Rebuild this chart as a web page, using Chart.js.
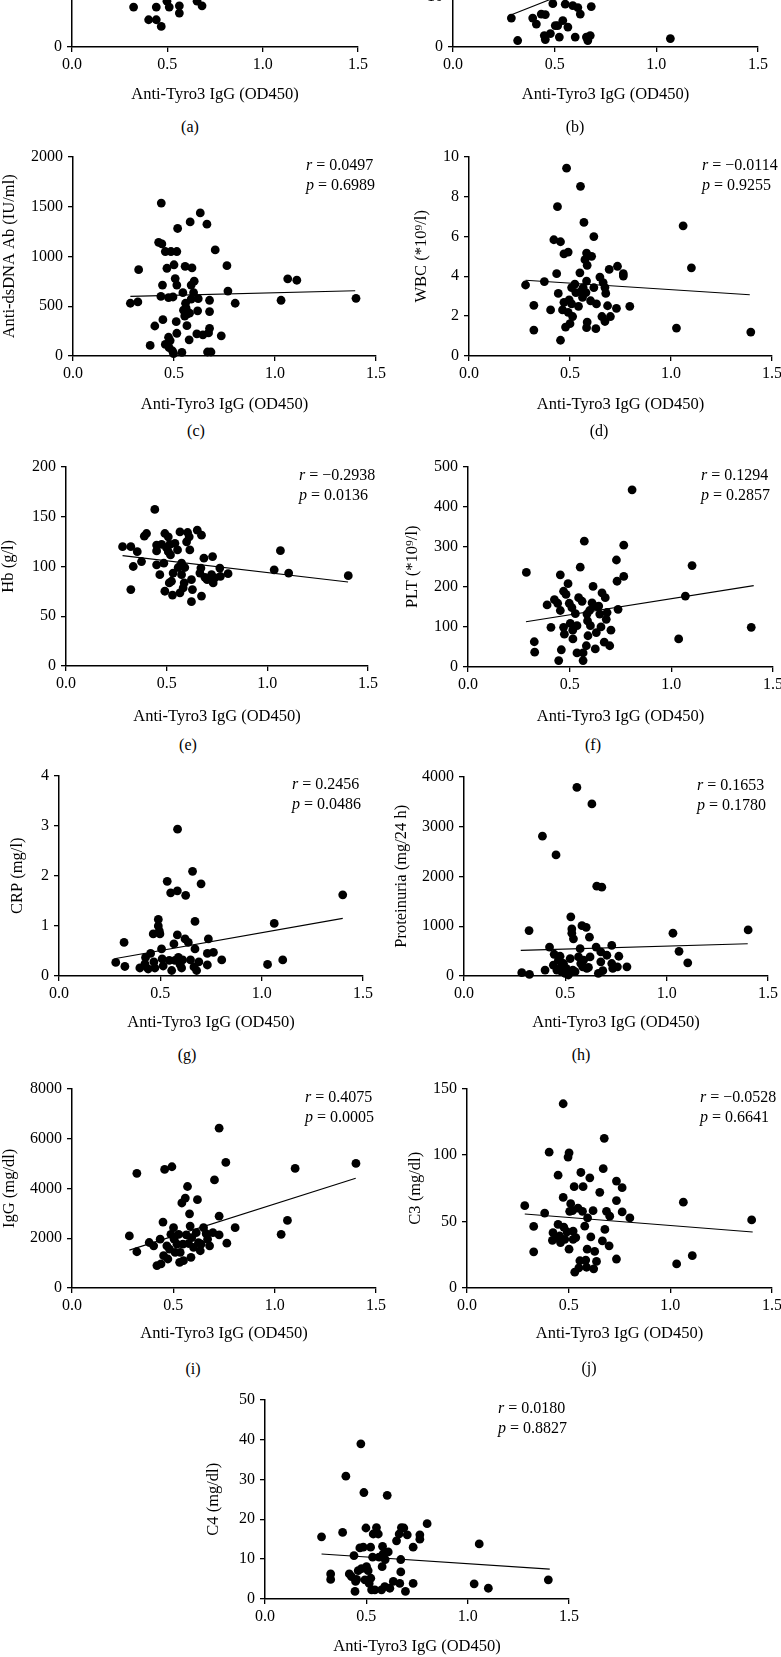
<!DOCTYPE html>
<html lang="en">
<head>
<meta charset="UTF-8">
<title>Anti-Tyro3 IgG correlations</title>
<script src="https://cdn.jsdelivr.net/npm/chart.js"></script>
<style>
	html, body { margin: 0; padding: 0; background: #fff; }
	body { position: relative; width: 781px; height: 1657px; overflow: hidden; font-family: "Liberation Serif", "Times New Roman", serif; }
	canvas { position: absolute; }
	.cap { position: absolute; font-size: 16px; color: #000; transform: translate(-50%, -50%); white-space: nowrap; }
</style>
</head>
<body>
<script>
// x values: Anti-Tyro3 IgG (OD450); y values per clinical parameter
const xTicks = [0, 0.5, 1.0, 1.5]

const ptsA = [[0.323,6.0],[0.442,6.0],[0.498,6.9],[0.510,6.0],[0.563,6.2],[0.563,5.1],[0.402,4.1],[0.442,4.1],[0.468,3.1],[0.656,6.9],[0.682,6.2]]

const ptsB = [[0.287,5.8],[0.318,1.3],[0.392,5.8],[0.410,4.6],[0.434,6.6],[0.454,6.5],[0.449,2.3],[0.454,1.5],[0.479,2.7],[0.491,8.7],[0.503,4.3],[0.515,4.3],[0.523,2.0],[0.540,5.3],[0.552,8.6],[0.565,4.0],[0.589,8.3],[0.601,2.0],[0.614,7.9],[0.626,6.6],[0.656,2.0],[0.663,1.3],[0.675,2.3],[0.680,8.1],[1.069,1.7]]
const lineB = [[0.278,6.3],[1.40,24.4]]

const dsDNA = [[0.284,529],[0.321,542],[0.325,866],[0.382,106],[0.405,301],[0.424,1140],[0.443,711],[0.445,364],[0.435,598],[0.457,1048],[0.457,116],[0.437,1534],[0.440,1124],[0.473,188],[0.481,155],[0.476,83],[0.493,50],[0.498,23],[0.485,1048],[0.495,592],[0.473,585],[0.465,880],[0.500,915],[0.514,1048],[0.518,1279],[0.506,777],[0.514,711],[0.511,344],[0.514,228],[0.539,36],[0.544,635],[0.547,460],[0.555,899],[0.557,529],[0.564,304],[0.564,420],[0.575,162],[0.577,430],[0.580,1345],[0.585,711],[0.589,883],[0.597,635],[0.600,750],[0.613,221],[0.617,453],[0.630,1435],[0.643,212],[0.663,1322],[0.666,40],[0.676,559],[0.676,446],[0.676,278],[0.671,231],[0.683,40],[0.704,1064],[0.734,202],[0.762,906],[0.767,651],[0.803,529],[1.030,559],[1.063,774],[1.108,760],[1.401,578],[0.553,400],[0.560,480],[0.585,570],[0.620,575]]
const lineDsDNA = [[0.284,598],[1.397,655]]

const wbc = [[0.280,3.56],[0.321,2.54],[0.321,1.30],[0.373,3.73],[0.404,2.31],[0.420,5.83],[0.434,4.13],[0.438,7.49],[0.442,3.14],[0.453,5.73],[0.453,0.79],[0.470,5.12],[0.483,9.42],[0.491,5.21],[0.470,2.69],[0.463,2.31],[0.478,1.45],[0.496,2.81],[0.500,1.62],[0.508,3.43],[0.508,2.61],[0.513,1.98],[0.491,2.19],[0.524,3.60],[0.529,3.18],[0.542,2.49],[0.549,4.17],[0.552,8.51],[0.557,3.27],[0.562,2.94],[0.565,3.43],[0.569,6.70],[0.574,4.83],[0.579,3.18],[0.582,5.16],[0.585,4.55],[0.582,3.76],[0.585,1.70],[0.582,1.42],[0.602,2.77],[0.607,5.00],[0.618,3.43],[0.618,5.99],[0.628,1.37],[0.631,2.61],[0.648,3.96],[0.658,1.98],[0.664,3.68],[0.673,3.43],[0.677,3.14],[0.673,1.73],[0.686,2.52],[0.694,4.34],[0.700,1.98],[0.730,2.39],[0.735,4.50],[0.764,4.01],[0.764,4.13],[0.796,2.49],[1.027,1.40],[1.060,6.53],[1.101,4.42],[1.395,1.20]]
const lineWbc = [[0.280,3.80],[1.390,3.07]]

const hb = [[0.281,119.7],[0.322,119.7],[0.322,76.7],[0.354,114.7],[0.334,99.8],[0.375,104.8],[0.389,130.2],[0.400,132.9],[0.441,157.0],[0.450,121.3],[0.450,115.4],[0.450,101.5],[0.466,91.6],[0.475,122.0],[0.486,103.1],[0.491,132.9],[0.491,75.0],[0.499,118.7],[0.508,129.6],[0.508,114.7],[0.513,83.3],[0.516,122.0],[0.519,111.4],[0.524,85.0],[0.529,71.1],[0.532,93.2],[0.541,123.0],[0.554,116.4],[0.557,98.8],[0.566,73.4],[0.574,103.1],[0.566,134.5],[0.574,91.6],[0.587,83.3],[0.590,98.8],[0.582,78.3],[0.599,124.6],[0.604,133.9],[0.612,129.6],[0.615,116.4],[0.623,86.6],[0.628,76.7],[0.623,64.5],[0.652,136.2],[0.665,93.2],[0.670,98.2],[0.673,131.2],[0.673,70.1],[0.685,108.1],[0.690,88.9],[0.701,86.6],[0.723,91.6],[0.728,109.8],[0.731,83.3],[0.739,88.3],[0.764,98.2],[0.767,89.9],[0.805,92.6],[1.034,96.5],[1.065,115.7],[1.106,93.2],[1.402,90.6]]
const lineHb = [[0.281,110.7],[1.401,84.3]]

const plt = [[0.287,236],[0.326,63],[0.328,37],[0.389,155],[0.408,99],[0.425,168],[0.441,159],[0.454,230],[0.454,141],[0.446,16],[0.459,43],[0.470,189],[0.470,99],[0.474,82],[0.482,181],[0.492,208],[0.498,159],[0.503,109],[0.511,148],[0.515,92],[0.516,70],[0.528,133],[0.536,103],[0.536,35],[0.544,173],[0.552,249],[0.561,164],[0.566,35],[0.566,16],[0.572,314],[0.582,53],[0.585,132],[0.588,115],[0.590,78],[0.598,141],[0.602,103],[0.610,160],[0.615,201],[0.621,152],[0.626,45],[0.631,86],[0.643,152],[0.648,132],[0.654,100],[0.659,185],[0.670,62],[0.675,173],[0.680,119],[0.684,136],[0.697,53],[0.703,92],[0.730,267],[0.733,214],[0.738,144],[0.766,304],[0.766,226],[0.807,442],[1.036,70],[1.069,177],[1.102,253],[1.393,99]]
const linePlt = [[0.285,113],[1.405,203]]

const crp = [[0.280,0.27],[0.321,0.67],[0.325,0.19],[0.399,0.16],[0.424,0.24],[0.427,0.37],[0.440,0.14],[0.452,0.45],[0.465,0.84],[0.468,0.28],[0.473,0.16],[0.490,1.13],[0.490,1.00],[0.495,0.90],[0.498,0.84],[0.506,0.54],[0.509,0.34],[0.514,0.20],[0.534,1.89],[0.544,0.31],[0.551,1.66],[0.556,0.11],[0.567,0.64],[0.572,0.31],[0.584,1.70],[0.584,0.82],[0.585,2.93],[0.589,0.37],[0.597,0.23],[0.605,0.16],[0.610,0.32],[0.622,0.74],[0.625,1.61],[0.638,0.67],[0.649,0.32],[0.659,2.09],[0.666,0.18],[0.671,0.54],[0.671,1.09],[0.679,0.11],[0.690,0.28],[0.701,1.84],[0.732,0.22],[0.732,0.45],[0.737,0.74],[0.762,0.47],[0.803,0.32],[1.029,0.23],[1.062,1.05],[1.104,0.32],[1.400,1.62]]
const lineCrp = [[0.28,0.35],[1.40,1.15]]

const protein = [[0.285,66],[0.323,33],[0.321,911],[0.387,2805],[0.400,119],[0.422,581],[0.441,218],[0.445,436],[0.454,2429],[0.458,119],[0.466,317],[0.474,396],[0.479,185],[0.482,86],[0.491,251],[0.499,53],[0.504,152],[0.515,20],[0.524,350],[0.527,1188],[0.532,944],[0.532,858],[0.540,746],[0.537,119],[0.548,86],[0.557,3782],[0.565,383],[0.573,548],[0.576,251],[0.582,1010],[0.586,185],[0.590,317],[0.603,977],[0.606,152],[0.614,172],[0.619,779],[0.622,383],[0.631,3452],[0.652,581],[0.655,1802],[0.663,53],[0.675,482],[0.680,1782],[0.675,284],[0.685,106],[0.705,416],[0.729,614],[0.729,251],[0.734,152],[0.757,185],[0.764,396],[0.804,185],[1.031,858],[1.061,495],[1.104,264],[1.402,924]]
const lineProtein = [[0.28,515],[1.40,647]]

const igg = [[0.283,2089],[0.320,1454],[0.320,4601],[0.381,1825],[0.403,1692],[0.419,899],[0.439,965],[0.435,1957],[0.449,2644],[0.452,1296],[0.457,4759],[0.468,1692],[0.473,1163],[0.481,1560],[0.488,2155],[0.493,4865],[0.501,2419],[0.504,1957],[0.509,1428],[0.518,1758],[0.526,2155],[0.531,1031],[0.534,1428],[0.542,3411],[0.547,1758],[0.550,1097],[0.559,3609],[0.564,2128],[0.570,4072],[0.575,1785],[0.580,2975],[0.583,2485],[0.587,1229],[0.591,2023],[0.600,1626],[0.613,2221],[0.619,3543],[0.624,1824],[0.633,1494],[0.637,1758],[0.649,2419],[0.662,2181],[0.669,1957],[0.679,1692],[0.695,2221],[0.703,4336],[0.726,2882],[0.726,2128],[0.726,6412],[0.759,5037],[0.764,1798],[0.805,2419],[1.032,2155],[1.063,2710],[1.101,4799],[1.401,4997]]
const lineIgg = [[0.283,1520],[1.40,4402]]

const c3 = [[0.284,61.9],[0.328,46.3],[0.328,27.2],[0.382,56.4],[0.404,102.2],[0.448,84.9],[0.423,41.6],[0.420,35.9],[0.440,37.9],[0.448,47.8],[0.456,39.1],[0.460,34.2],[0.473,68.1],[0.473,138.6],[0.476,45.8],[0.481,36.6],[0.492,42.3],[0.497,98.5],[0.502,101.7],[0.502,29.2],[0.505,57.7],[0.510,63.4],[0.519,58.2],[0.522,42.8],[0.527,76.2],[0.522,36.6],[0.530,11.9],[0.535,37.9],[0.546,60.1],[0.550,15.1],[0.555,20.5],[0.560,86.9],[0.568,57.7],[0.571,76.2],[0.579,46.5],[0.584,21.0],[0.588,15.6],[0.591,29.2],[0.593,52.7],[0.604,82.9],[0.609,38.4],[0.620,58.2],[0.623,14.4],[0.628,27.5],[0.637,20.0],[0.653,72.0],[0.666,35.4],[0.670,89.8],[0.678,44.1],[0.675,112.6],[0.686,57.7],[0.702,54.0],[0.699,31.7],[0.735,21.8],[0.735,65.8],[0.735,80.4],[0.763,75.5],[0.763,57.2],[0.801,52.7],[1.031,18.1],[1.064,64.6],[1.108,24.3],[1.400,51.2]]
const lineC3 = [[0.284,55.7],[1.405,42.1]]

const c4 = [[0.279,15.6],[0.324,6.3],[0.324,4.9],[0.383,16.7],[0.399,30.8],[0.416,6.3],[0.427,5.6],[0.439,10.9],[0.444,1.9],[0.447,4.4],[0.452,4.9],[0.460,7.1],[0.468,12.8],[0.473,38.9],[0.476,7.6],[0.485,13.0],[0.488,26.7],[0.493,4.8],[0.498,17.8],[0.501,8.1],[0.509,7.1],[0.514,3.9],[0.521,13.0],[0.522,5.2],[0.526,2.3],[0.531,10.5],[0.534,16.3],[0.542,2.3],[0.550,17.9],[0.559,16.3],[0.563,10.5],[0.575,2.3],[0.578,8.1],[0.580,13.2],[0.583,11.3],[0.591,3.1],[0.593,9.9],[0.603,26.0],[0.608,11.8],[0.616,2.7],[0.633,4.4],[0.649,14.6],[0.662,16.3],[0.665,3.9],[0.670,9.9],[0.670,6.8],[0.673,17.9],[0.685,17.8],[0.693,1.9],[0.702,16.1],[0.731,3.9],[0.731,13.0],[0.764,16.1],[0.764,15.0],[0.800,18.9],[1.032,3.8],[1.057,13.8],[1.102,2.7],[1.398,4.8]]
const lineC4 = [[0.279,11.3],[1.405,7.5]]

const yTitles = ["", "", "Anti-dsDNA Ab (IU/ml)", "WBC (*10⁹/l)", "Hb (g/l)", "PLT (*10⁹/l)", "CRP (mg/l)", "Proteinuria (mg/24 h)", "IgG (mg/dl)", "C3 (mg/dl)", "C4 (mg/dl)"]
const yMax = [30, 40, 2000, 10, 200, 500, 4, 4000, 8000, 150, 50]
const yStep = [10, 10, 500, 2, 50, 100, 1, 1000, 2000, 50, 10]
const rVals = [null, null, "0.0497", "−0.0114", "−0.2938", "0.1294", "0.2456", "0.1653", "0.4075", "−0.0528", "0.0180"]
const pVals = [null, null, "0.6989", "0.9255", "0.0136", "0.2857", "0.0486", "0.1780", "0.0005", "0.6641", "0.8827"]
const captions = ["(a)", "(b)", "(c)", "(d)", "(e)", "(f)", "(g)", "(h)", "(i)", "(j)", null]
const points = [ptsA, ptsB, dsDNA, wbc, hb, plt, crp, protein, igg, c3, c4]
const fits = [null, lineB, lineDsDNA, lineWbc, lineHb, linePlt, lineCrp, lineProtein, lineIgg, lineC3, lineC4]

// page geometry of each plot area: left, right, top, bottom, y-title distance, x-title distance
const boxes = [
	[72, 358, -155, 47, 60, 48],
	[453, 758, -155, 47, 60, 48],
	[73, 376, 154, 356, 63, 49],
	[469, 772, 154, 356, 47, 49],
	[66, 368, 464, 666, 57, 51],
	[468, 773, 464, 667, 55, 50],
	[59, 363, 773, 976, 41, 47],
	[464, 768, 774, 976, 62, 47],
	[72, 376, 1086, 1288, 62, 46],
	[467, 772, 1086, 1288, 51, 46],
	[265, 569, 1397, 1599, 51, 48]
]
const capPos = [[190,127],[575,127],[196,431],[599,431],[188,745],[593,745],[187,1055],[581,1055],[193,1369],[589,1368]]

const FONT = '"Liberation Serif", "Times New Roman", serif'
const AXW = 75, AXH = 65, PADT = 12, PADR = 20

const corrText = {
	id: "corrText",
	afterDraw(chart, args, opts) {
		if(!opts.r) return
		const {ctx, chartArea} = chart
		const x0 = chartArea.left + 233
		ctx.save()
		ctx.fillStyle = "#000"
		ctx.textBaseline = "middle"
		;[["r", opts.r, 9.5], ["p", opts.p, 29.5]].forEach(([sym, val, dy]) => {
			ctx.font = "italic 16px " + FONT
			ctx.fillText(sym, x0, chartArea.top + dy)
			const w = ctx.measureText(sym).width
			ctx.font = "16px " + FONT
			ctx.fillText(" = " + val, x0 + w, chartArea.top + dy)
		})
		ctx.restore()
	}
}

points.forEach((pts, i) => {
	const [L, R, T, B, yd, xd] = boxes[i]
	const cv = document.createElement("canvas")
	const w = AXW + (R - L) + PADR
	const h = PADT + (B - T) + AXH
	cv.width = w
	cv.height = h
	cv.style.left = (L - AXW) + "px"
	cv.style.top = (T - PADT) + "px"
	cv.style.width = w + "px"
	cv.style.height = h + "px"
	document.body.appendChild(cv)

	const datasets = [{
		data: pts.map(p => ({x: p[0], y: p[1]})),
		pointRadius: 4.4,
		pointBackgroundColor: "#000",
		pointBorderWidth: 0,
		clip: false
	}]
	if(fits[i]) {
		datasets.push({
			data: fits[i].map(p => ({x: p[0], y: p[1]})),
			showLine: true,
			borderColor: "#000",
			borderWidth: 1.1,
			pointRadius: 0,
			clip: false
		})
	}

	new Chart(cv, {
		type: "scatter",
		data: {datasets},
		plugins: [corrText],
		options: {
			responsive: false,
			animation: false,
			devicePixelRatio: 1,
			layout: {padding: {left: 0, top: PADT, right: PADR, bottom: 0}},
			plugins: {
				legend: {display: false},
				tooltip: {enabled: false},
				corrText: {r: rVals[i], p: pVals[i]}
			},
			scales: {
				x: {
					type: "linear",
					min: 0,
					max: 1.5,
					afterFit: axis => { axis.height = AXH },
					afterBuildTicks: axis => { axis.ticks = xTicks.map(v => ({value: v})) },
					ticks: {
						color: "#000",
						font: {family: FONT, size: 16},
						padding: 3,
						autoSkip: false,
						maxRotation: 0,
						callback: v => v.toFixed(1)
					},
					grid: {drawOnChartArea: false, drawTicks: true, tickLength: 5, color: "#000", lineWidth: 1.3},
					border: {display: true, color: "#000", width: 1.5},
					title: {
						display: true,
						text: "Anti-Tyro3 IgG (OD450)",
						color: "#000",
						font: {family: FONT, size: 16.5},
						padding: {top: 0, bottom: AXH - xd - 9.9}
					}
				},
				y: {
					type: "linear",
					min: 0,
					max: yMax[i],
					afterFit: axis => { axis.width = AXW },
					ticks: {
						stepSize: yStep[i],
						color: "#000",
						font: {family: FONT, size: 16},
						padding: 5,
						callback: v => String(v)
					},
					grid: {drawOnChartArea: false, drawTicks: true, tickLength: 5, color: "#000", lineWidth: 1.3},
					border: {display: true, color: "#000", width: 1.5},
					title: {
						display: yTitles[i] !== "",
						text: yTitles[i],
						color: "#000",
						font: {family: FONT, size: 16.5},
						padding: {top: AXW - yd - 9.9, bottom: 0}
					}
				}
			}
		}
	})
})

captions.forEach((c, i) => {
	if(!c) return
	const d = document.createElement("div")
	d.className = "cap"
	d.textContent = c
	d.style.left = capPos[i][0] + "px"
	d.style.top = capPos[i][1] + "px"
	document.body.appendChild(d)
})
</script>
</body>
</html>
